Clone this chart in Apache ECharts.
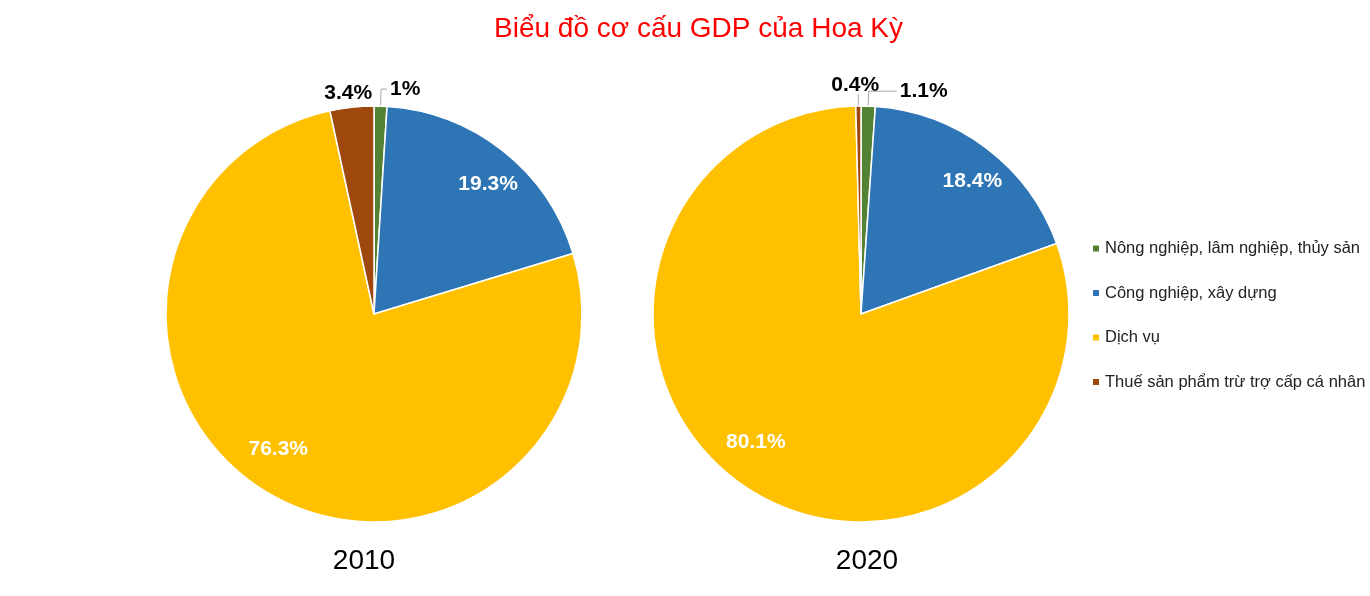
<!DOCTYPE html>
<html lang="vi">
<head>
    <meta charset="utf-8">
    <title>Biểu đồ cơ cấu GDP của Hoa Kỳ</title>
    <script src="https://cdn.jsdelivr.net/npm/echarts@6/dist/echarts.min.js"></script>
    <style>
        html, body { margin: 0; padding: 0; background: #fff; }
        #chart { width: 1370px; height: 596px; }
    </style>
</head>
<body>
<div id="chart"></div>
<script>
var sectors = ['Nông nghiệp, lâm nghiệp, thủy sản', 'Công nghiệp, xây dựng', 'Dịch vụ', 'Thuế sản phẩm trừ trợ cấp cá nhân'];
var colors = ['#548235', '#2e75b6', '#ffc000', '#9e480e'];
var years = ['2010', '2020'];
var values2010 = [1, 19.3, 76.3, 3.4];
var values2020 = [1.1, 18.4, 80.1, 0.4];
// big slices get white labels inside, small ones black labels outside
var inside = [false, true, true, false];

var font = 'Liberation Sans, Arial, sans-serif';
var R = 208;

// leader lines of the small slices, per year
var leaders2010 = [
    { show: true, length: 17, length2: 6 },
    null, null,
    { show: false, length: 6, length2: 0 }
];
var leaders2020 = [
    { show: true, length: 15, length2: 28 },
    null, null,
    { show: true, length: 12, length2: 0 }
];

function outerPie(values, leaders, cx) {
    return {
        type: 'pie',
        center: [cx, 314],
        radius: [0, R],
        startAngle: 90,
        clockwise: true,
        avoidLabelOverlap: false,
        itemStyle: { borderColor: '#fff', borderWidth: 1.5 },
        emphasis: { disabled: true },
        label: {
            position: 'outside',
            formatter: '{c}%',
            color: '#000',
            fontFamily: font,
            fontWeight: 'bold',
            fontSize: 21,
            distanceToLabelLine: 3
        },
        labelLine: { show: true, lineStyle: { color: '#a6a6a6', width: 1 } },
        labelLayout: function (p) {
            // the tax slice label sits straight on top of its leader
            if (p.dataIndex === 3) {
                return { align: 'center', verticalAlign: 'bottom', dy: 2 };
            }
            return {};
        },
        data: values.map(function (v, i) {
            var d = {
                name: sectors[i],
                value: v,
                itemStyle: { color: colors[i] },
                label: { show: !inside[i] }
            };
            if (leaders[i]) d.labelLine = leaders[i];
            return d;
        })
    };
}

// transparent ring only used to place the inside labels
// (turned a few degrees so the labels sit like the original ones)
function labelRing(values, cx) {
    return {
        type: 'pie',
        center: [cx, 314],
        radius: [R * 0.6, R],
        startAngle: 86,
        clockwise: true,
        silent: true,
        itemStyle: { color: 'transparent', borderWidth: 0 },
        emphasis: { disabled: true },
        label: {
            position: 'inside',
            formatter: '{c}%',
            color: '#fff',
            fontFamily: font,
            fontWeight: 'bold',
            fontSize: 21
        },
        labelLine: { show: false },
        labelLayout: { dy: -5 },
        data: values.map(function (v, i) {
            return { name: sectors[i], value: v, label: { show: inside[i] } };
        })
    };
}

echarts.init(document.getElementById('chart')).setOption({
    animation: false,
    color: colors,
    title: {
        text: 'Biểu đồ cơ cấu GDP của Hoa Kỳ',
        left: 489,
        top: 10,
        textStyle: { color: '#ff0000', fontFamily: font, fontSize: 28, fontWeight: 'normal' }
    },
    legend: {
        orient: 'vertical',
        left: 1086,
        top: 235,
        itemWidth: 8,
        itemHeight: 8,
        itemGap: 27.5,
        icon: 'rect',
        data: sectors,
        textStyle: { color: '#222', fontFamily: font, fontSize: 16.5 }
    },
    graphic: [
        { type: 'text', x: 364, y: 561, style: { text: years[0], fill: '#000', font: '28px ' + font, align: 'center', verticalAlign: 'middle' } },
        { type: 'text', x: 867, y: 561, style: { text: years[1], fill: '#000', font: '28px ' + font, align: 'center', verticalAlign: 'middle' } }
    ],
    series: [
        outerPie(values2010, leaders2010, 374),
        outerPie(values2020, leaders2020, 861),
        labelRing(values2010, 374),
        labelRing(values2020, 861)
    ]
});
</script>
</body>
</html>
